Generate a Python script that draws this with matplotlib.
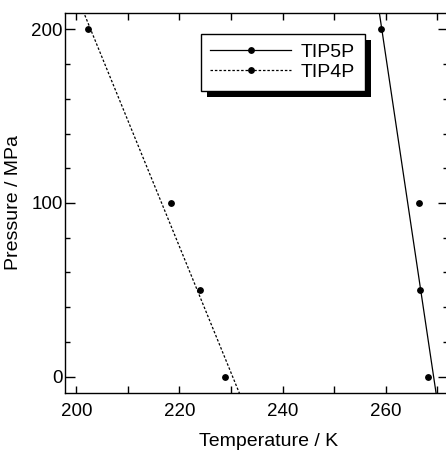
import numpy as np
import matplotlib
matplotlib.use('Agg')
import matplotlib.pyplot as plt
from matplotlib.ticker import MultipleLocator
from matplotlib.patches import Rectangle

plt.rcParams['font.family'] = ['Liberation Sans', 'DejaVu Sans']

# Simulation data: pressure (MPa) vs temperature (K)
pressure = [0, 50, 100, 200]
temp_tip5p = [268.3, 266.6, 266.4, 259.0]
temp_tip4p = [228.9, 224.0, 218.3, 202.2]

# Fitted lines, given as temperature at the two ends of the pressure range
fit_pressure = [-10, 210]
fit_tip5p = [269.8, 258.75]
fit_tip4p = [231.7, 201.4]

fig = plt.figure(figsize=(4.46, 4.51), dpi=100)
# the right spine sits just outside the picture, as in the original
ax = fig.add_axes([0.1457, 0.1286, 0.8587, 0.8426])

dash = (0, (2, 1.5))
ax.plot(fit_tip5p, fit_pressure, color='black', linestyle='-', linewidth=0.9)
ax.plot(fit_tip4p, fit_pressure, color='black', linestyle=dash, linewidth=0.9)
ax.plot(temp_tip5p, pressure, 'o', color='black', markersize=3.9)
ax.plot(temp_tip4p, pressure, 'o', color='black', markersize=3.9)

# legend handles: line with a single marker in the middle
h5, = ax.plot([], [], color='black', linestyle='-', marker='o', markersize=3.9, linewidth=0.9)
h4, = ax.plot([], [], color='black', linestyle=dash, marker='o', markersize=3.9, linewidth=0.9)
leg = ax.legend([h5, h4], ['TIP5P', 'TIP4P'], loc='upper left', bbox_to_anchor=(0.354, 0.945),
                borderaxespad=0, fancybox=False, framealpha=1, edgecolor='black',
                fontsize=14, handlelength=4.17, handletextpad=0.5, labelspacing=0.1,
                numpoints=1, borderpad=0.5)
leg.get_frame().set_linewidth(1.0)
leg.set_zorder(10)

ax.set_xlim(197.81, 272.08)
ax.set_ylim(-9.4, 209.4)
ax.xaxis.set_major_locator(MultipleLocator(20))
ax.xaxis.set_minor_locator(MultipleLocator(10))
ax.yaxis.set_major_locator(MultipleLocator(100))
ax.yaxis.set_minor_locator(MultipleLocator(20))
ax.tick_params(which='both', direction='in', top=True, right=True, width=1)
ax.tick_params(axis='x', which='both', length=5)
ax.tick_params(axis='y', which='major', length=7)
ax.tick_params(axis='y', which='minor', length=3.5)
ax.tick_params(axis='x', labelsize=13.5, pad=7)
ax.tick_params(axis='y', labelsize=13.5, pad=1.5)
for s in ax.spines.values():
    s.set_linewidth(1.0)

ax.set_xlabel('Temperature / K', fontsize=14, labelpad=11)
ax.xaxis.set_label_coords(0.531, -0.105)
ax.set_ylabel('Pressure / MPa', fontsize=14, labelpad=7)

# solid black drop shadow behind the legend box
fig.canvas.draw()
bb = leg.get_window_extent().transformed(fig.transFigure.inverted())
dx, dy = 6 / fig.bbox.width, 6 / fig.bbox.height
shadow = Rectangle((bb.x0 + dx, bb.y0 - dy), bb.width, bb.height, transform=fig.transFigure,
                   facecolor='black', edgecolor='none', zorder=9)
ax.add_artist(shadow)
shadow.set_clip_on(False)

fig.savefig('out.png', dpi=100)
